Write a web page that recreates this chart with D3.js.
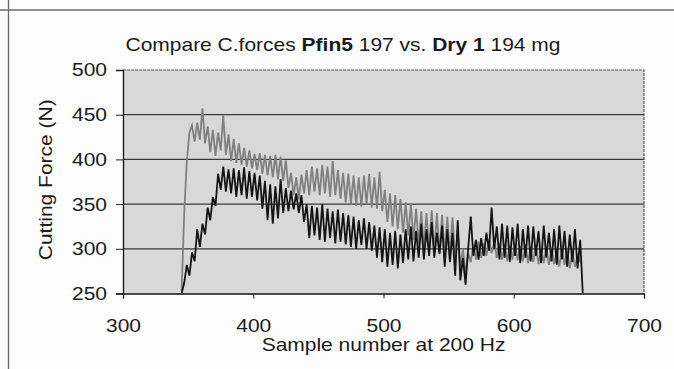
<!DOCTYPE html>
<html><head><meta charset="utf-8">
<script src="https://cdn.jsdelivr.net/npm/d3@7/dist/d3.min.js"></script>
<style>html,body{margin:0;padding:0;background:#fdfdfd;}svg{display:block;}</style>
</head><body>
<svg id="chart" width="674" height="369"></svg>
<script>
// ---- data ----
const sampleStart = 345;   // first sample number
const sampleStep = 2;      // samples between stored points
const pfin5 = [252,340,398,430,438,420,441,422,457,418,437,408,433,404,430,410,449,405,428,398,
  423,396,418,394,413,392,410,390,406,388,407,384,405,382,404,380,405,378,403,376,
  399,368,385,360,380,355,383,362,388,360,392,364,390,360,394,362,392,358,398,360,
  388,356,385,352,384,350,382,348,380,347,382,350,384,346,380,345,386,342,366,330,
  362,325,360,322,356,318,352,315,350,310,345,305,342,300,340,298,343,296,340,295,
  338,294,336,292,335,290,320,280,300,272,295,285,305,288,308,290,306,292,310,295,
  308,290,306,288,305,286,304,288,306,287,303,286,305,284,302,285,304,283,300,284,
  302,282,300,283,298,280,300,282,298,278,296,280,292,285];
const dry1 = [250,262,282,270,296,286,322,302,328,316,346,332,358,348,384,366,392,364,389,362,
  390,358,388,360,391,356,387,358,385,354,382,345,376,332,372,328,370,334,378,340,
  368,342,365,344,362,340,360,330,350,312,348,315,346,310,350,308,345,312,342,306,
  344,308,340,305,338,302,336,300,332,304,334,300,330,298,326,290,324,285,322,280,
  318,282,320,278,316,284,322,288,325,286,320,290,328,288,322,292,330,290,318,294,
  326,280,322,285,318,270,332,265,290,260,300,336,292,310,288,312,292,318,298,346,
  300,325,288,328,290,326,285,324,292,328,284,322,290,326,286,325,292,320,284,326,
  290,318,286,322,282,326,288,320,280,316,285,322,278,310,250];
const xTicks = [300,400,500,600,700];
const yTicks = [250,300,350,400,450,500];
const titleParts = [["Compare C.forces ",false],["Pfin5",true],[" 197 vs. ",false],["Dry 1",true],[" 194 mg",false]];
const xTitle = "Sample number at 200 Hz";
const yTitle = "Cutting Force (N)";

// ---- drawing ----
const svg = d3.select("#chart");
const font = "'Liberation Sans', Arial, sans-serif";
const SX = 1.2; // horizontal widening of the scanned lettering
const L = 123, R = 644, T = 70, B = 293.5;
const x = d3.scaleLinear().domain([300,700]).range([L,R]);
const y = d3.scaleLinear().domain([250,500]).range([B,T]);

// document frame lines
svg.append("line").attr("x1",0).attr("x2",674).attr("y1",10).attr("y2",10)
  .attr("stroke","#6a6a6a").attr("stroke-width",1.6);
svg.append("line").attr("x1",8.5).attr("x2",8.5).attr("y1",0).attr("y2",369)
  .attr("stroke","#6a6a6a").attr("stroke-width",1.3);

// plot background
svg.append("rect").attr("x",L).attr("y",T).attr("width",R-L).attr("height",B-T)
  .attr("fill","#d8d8d8");

// gridlines
svg.append("g").selectAll("line").data(yTicks.filter(v=>v>250 && v<500)).join("line")
  .attr("x1",L).attr("x2",R).attr("y1",d=>y(d)).attr("y2",d=>y(d))
  .attr("stroke","#3a3a3a").attr("stroke-width",1.2);

// top and right border (dotted)
svg.append("path").attr("d",`M${L},${T}H${R}V${B}`).attr("fill","none")
  .attr("stroke","#555").attr("stroke-width",1.2).attr("stroke-dasharray","3,1");

// series
const mk = arr => arr.map((v,i)=>[sampleStart+i*sampleStep, v]);
const line = d3.line().x(d=>x(d[0])).y(d=>y(d[1]));
svg.append("clipPath").attr("id","pc").append("rect")
  .attr("x",L).attr("y",T-2).attr("width",R-L).attr("height",B-T+2);
svg.append("path").datum(mk(pfin5)).attr("d",line).attr("fill","none")
  .attr("stroke","#808080").attr("stroke-width",1.8).attr("clip-path","url(#pc)");
svg.append("path").datum(mk(dry1)).attr("d",line).attr("fill","none")
  .attr("stroke","#141414").attr("stroke-width",1.8).attr("clip-path","url(#pc)");

// axes
const yAxis = d3.axisLeft(y).tickValues(yTicks).tickSize(7).tickPadding(0);
const gy = svg.append("g").attr("transform",`translate(${L},0)`).call(yAxis);
const xAxis = d3.axisBottom(x).tickValues(xTicks).tickSize(5).tickPadding(0);
const gx = svg.append("g").attr("transform",`translate(0,${B})`).call(xAxis);
[gy,gx].forEach(g=>{
  g.select(".domain").attr("stroke","#111").attr("stroke-width",1.3);
  g.selectAll(".tick line").attr("stroke","#222").attr("stroke-width",1);
  g.selectAll(".tick text").attr("fill","#1a1a1a").style("font-family",font).style("font-size","17.5px");
});
gy.selectAll(".tick text").attr("x",null).attr("dy","0.34em")
  .attr("transform",`translate(-16,0) scale(${SX},1)`);
gx.selectAll(".tick text").attr("y",null).attr("dy","0")
  .attr("transform",`translate(0,38) scale(${SX},1)`);

// title
const tt = svg.append("text").attr("text-anchor","middle")
  .attr("transform",`translate(343,51) scale(${SX},1)`)
  .style("font-family",font).style("font-size","17.5px").attr("fill","#1a1a1a");
titleParts.forEach(([t,b])=>tt.append("tspan").text(t).attr("font-weight",b?"bold":"normal"));

// axis titles
svg.append("text").attr("text-anchor","middle")
  .attr("transform",`translate(${(L+R)/2},351) scale(${SX},1)`)
  .style("font-family",font).style("font-size","17.5px").attr("fill","#1a1a1a").text(xTitle);
svg.append("text").attr("text-anchor","middle")
  .attr("transform",`translate(52,${(T+B)/2 - 2}) rotate(-90) scale(${SX},1)`)
  .style("font-family",font).style("font-size","17.5px").attr("fill","#1a1a1a").text(yTitle);
</script>
</body></html>
